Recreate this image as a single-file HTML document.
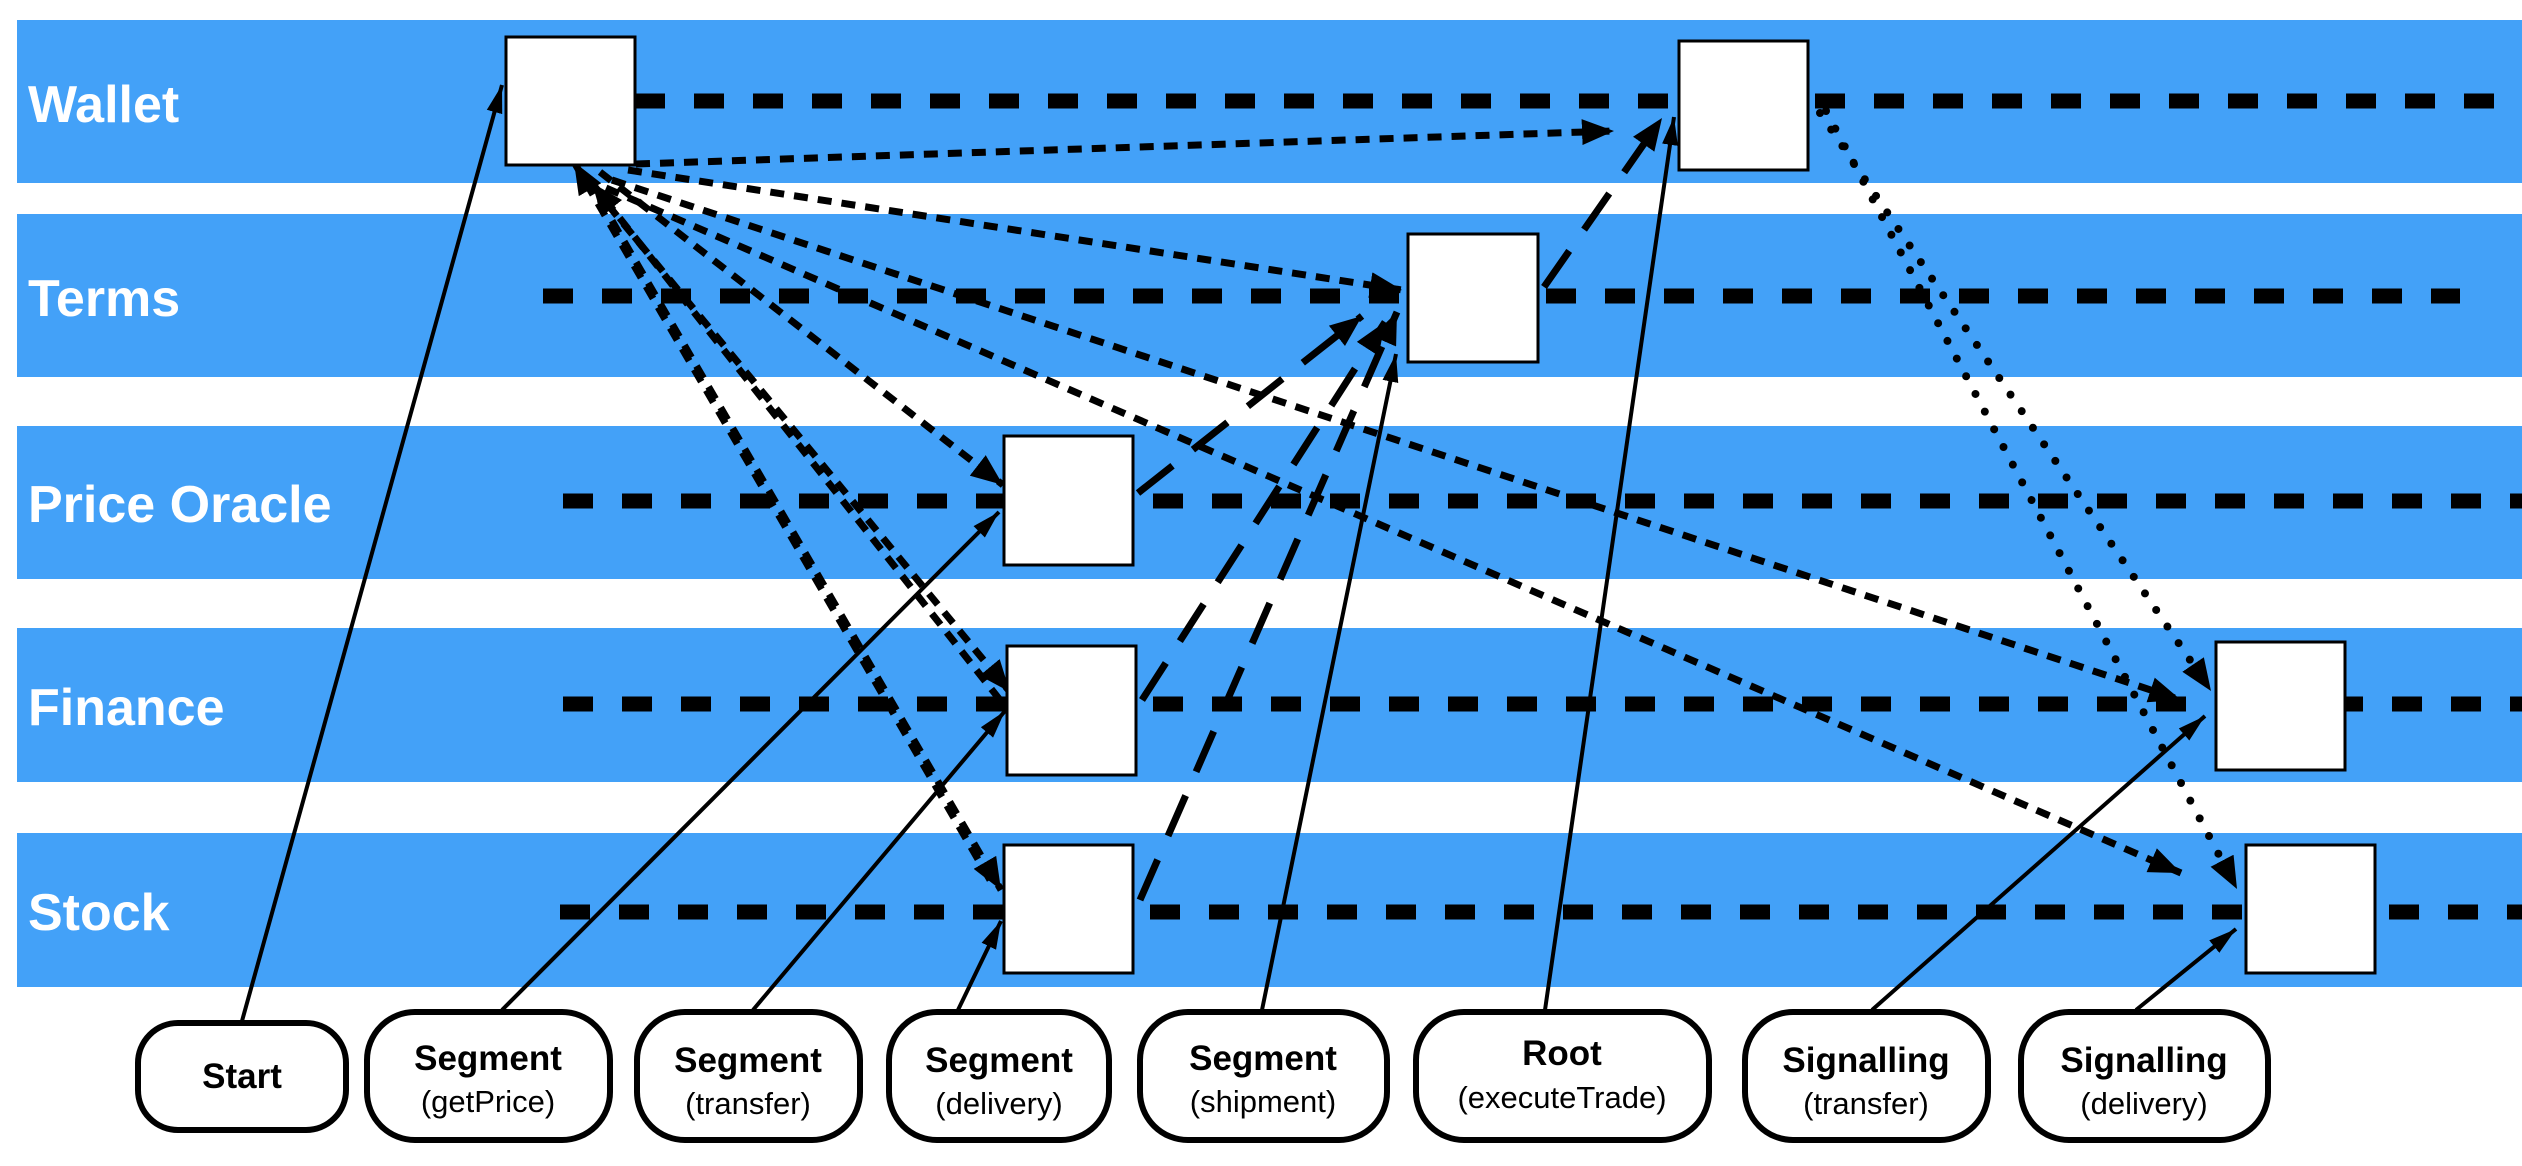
<!DOCTYPE html>
<html><head><meta charset="utf-8"><style>
html,body{margin:0;padding:0;background:#fff;}
svg{display:block;}
.lbl{font-family:"Liberation Sans",sans-serif;font-weight:bold;font-size:52px;fill:#fff;}
.n1{font-family:"Liberation Sans",sans-serif;font-weight:bold;font-size:35px;fill:#000;}
.n2{font-family:"Liberation Sans",sans-serif;font-size:31px;fill:#000;}
</style></head><body>
<svg width="2522" height="1166" viewBox="0 0 2522 1166" xmlns="http://www.w3.org/2000/svg">
<defs>
<marker id="aS" markerUnits="userSpaceOnUse" markerWidth="30" markerHeight="20" refX="28" refY="10" orient="auto"><path d="M0,2 L28,10 L0,18 z" fill="#000"/></marker>
<marker id="aD" markerUnits="userSpaceOnUse" markerWidth="34" markerHeight="26" refX="32" refY="13" orient="auto"><path d="M0,0 L32,13 L0,26 z" fill="#000"/></marker>
</defs>
<g fill="#43a1f8">
<rect x="17" y="20" width="2505" height="163"/>
<rect x="17" y="214" width="2505" height="163"/>
<rect x="17" y="426" width="2505" height="153"/>
<rect x="17" y="628" width="2505" height="154"/>
<rect x="17" y="833" width="2505" height="154"/>
</g>
<text class="lbl" x="28" y="122">Wallet</text>
<text class="lbl" x="28" y="316">Terms</text>
<text class="lbl" x="28" y="522">Price Oracle</text>
<text class="lbl" x="28" y="725">Finance</text>
<text class="lbl" x="28" y="930">Stock</text>
<g stroke="#000" stroke-width="15" stroke-dasharray="30 29" fill="none">
<line x1="635" y1="101" x2="2522" y2="101"/>
<line x1="543" y1="296" x2="2460" y2="296"/>
<line x1="563" y1="501" x2="2522" y2="501"/>
<line x1="563" y1="704" x2="2522" y2="704"/>
<line x1="560" y1="912" x2="2522" y2="912"/>
</g>
<g stroke="#000" stroke-width="7" stroke-dasharray="14 10" fill="none" marker-end="url(#aD)">
<line x1="636" y1="164" x2="1614" y2="131"/>
<line x1="628" y1="170" x2="1402" y2="290"/>
<line x1="600" y1="172" x2="1003" y2="485"/>
<line x1="608" y1="205" x2="1010" y2="692"/>
<line x1="600" y1="200" x2="1001" y2="890"/>
<line x1="612" y1="180" x2="2181" y2="700"/>
<line x1="606" y1="188" x2="2181" y2="873"/>
<line x1="1000" y1="700" x2="592" y2="183"/>
<line x1="990" y1="880" x2="574" y2="162"/>
</g>
<g stroke="#000" stroke-width="7" stroke-dasharray="44 26" fill="none" marker-end="url(#aD)">
<line x1="1138" y1="493" x2="1362" y2="316"/>
<line x1="1142" y1="700" x2="1385" y2="322"/>
<line x1="1140" y1="900" x2="1397" y2="312"/>
<line x1="1544" y1="287" x2="1662" y2="118"/>
</g>
<g stroke="#000" stroke-width="8" stroke-dasharray="0 20" stroke-linecap="round" fill="none" marker-end="url(#aD)">
<line x1="1820" y1="113" x2="2211" y2="691"/>
<line x1="1826" y1="111" x2="2237" y2="889"/>
</g>
<g fill="#fff" stroke="#000" stroke-width="3">
<rect x="506" y="37" width="129" height="128"/>
<rect x="1004" y="436" width="129" height="129"/>
<rect x="1408" y="234" width="130" height="128"/>
<rect x="1679" y="41" width="129" height="129"/>
<rect x="1007" y="646" width="129" height="129"/>
<rect x="1004" y="845" width="129" height="128"/>
<rect x="2216" y="642" width="129" height="128"/>
<rect x="2246" y="845" width="129" height="128"/>
</g>
<g stroke="#000" stroke-width="4" fill="none" marker-end="url(#aS)">
<line x1="242" y1="1021" x2="502" y2="85"/>
<line x1="502" y1="1010" x2="999" y2="512"/>
<line x1="753" y1="1010" x2="1005" y2="711"/>
<line x1="958" y1="1010" x2="1001" y2="921"/>
<line x1="1262" y1="1010" x2="1396" y2="354"/>
<line x1="1545" y1="1010" x2="1674" y2="117"/>
<line x1="1872" y1="1010" x2="2205" y2="716"/>
<line x1="2136" y1="1010" x2="2236" y2="929"/>
</g>
<g fill="#fff" stroke="#000" stroke-width="6">
<rect x="138" y="1023" width="208" height="107" rx="40"/>
<rect x="367" y="1012" width="243" height="128" rx="48"/>
<rect x="637" y="1012" width="223" height="128" rx="48"/>
<rect x="889" y="1012" width="220" height="128" rx="48"/>
<rect x="1140" y="1012" width="247" height="128" rx="48"/>
<rect x="1416" y="1012" width="293" height="128" rx="48"/>
<rect x="1745" y="1012" width="243" height="128" rx="48"/>
<rect x="2021" y="1012" width="247" height="128" rx="48"/>
</g>
<g text-anchor="middle">
<text class="n1" x="242" y="1088">Start</text>
<text class="n1" x="488" y="1070">Segment</text><text class="n2" x="488" y="1112">(getPrice)</text>
<text class="n1" x="748" y="1072">Segment</text><text class="n2" x="748" y="1114">(transfer)</text>
<text class="n1" x="999" y="1072">Segment</text><text class="n2" x="999" y="1114">(delivery)</text>
<text class="n1" x="1263" y="1070">Segment</text><text class="n2" x="1263" y="1112">(shipment)</text>
<text class="n1" x="1562" y="1065">Root</text><text class="n2" x="1562" y="1108">(executeTrade)</text>
<text class="n1" x="1866" y="1072">Signalling</text><text class="n2" x="1866" y="1114">(transfer)</text>
<text class="n1" x="2144" y="1072">Signalling</text><text class="n2" x="2144" y="1114">(delivery)</text>
</g>
</svg>
</body></html>
